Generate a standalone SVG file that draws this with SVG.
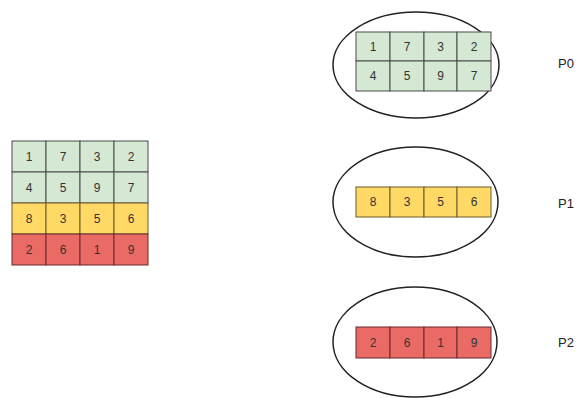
<svg xmlns="http://www.w3.org/2000/svg" width="582" height="398" viewBox="0 0 582 398">
<style>
.g{fill:#d5e8d4;stroke:#4a4a4a;stroke-width:1}
.y{fill:#ffd966;stroke:#6b5a2a;stroke-width:1}
.r{fill:#ea6b66;stroke:#6b2a2a;stroke-width:1}
.e{fill:#ffffff;stroke:#222;stroke-width:1.5}
text{font-family:"Liberation Sans",Arial,sans-serif;font-size:12px;fill:#333;text-anchor:middle;dominant-baseline:central}
.lbl{font-size:13px;text-anchor:start;fill:#222}
</style>
<rect width="582" height="398" fill="#fff"/>
<g id="matrix">
<rect class="g" x="12" y="141" width="34" height="31"/><rect class="g" x="46" y="141" width="34" height="31"/><rect class="g" x="80" y="141" width="34" height="31"/><rect class="g" x="114" y="141" width="34" height="31"/>
<rect class="g" x="12" y="172" width="34" height="31"/><rect class="g" x="46" y="172" width="34" height="31"/><rect class="g" x="80" y="172" width="34" height="31"/><rect class="g" x="114" y="172" width="34" height="31"/>
<rect class="y" x="12" y="203" width="34" height="31"/><rect class="y" x="46" y="203" width="34" height="31"/><rect class="y" x="80" y="203" width="34" height="31"/><rect class="y" x="114" y="203" width="34" height="31"/>
<rect class="r" x="12" y="234" width="34" height="31"/><rect class="r" x="46" y="234" width="34" height="31"/><rect class="r" x="80" y="234" width="34" height="31"/><rect class="r" x="114" y="234" width="34" height="31"/>
<text x="29" y="157">1</text><text x="63" y="157">7</text><text x="97" y="157">3</text><text x="131" y="157">2</text>
<text x="29" y="188">4</text><text x="63" y="188">5</text><text x="97" y="188">9</text><text x="131" y="188">7</text>
<text x="29" y="219">8</text><text x="63" y="219">3</text><text x="97" y="219">5</text><text x="131" y="219">6</text>
<text x="29" y="250">2</text><text x="63" y="250">6</text><text x="97" y="250">1</text><text x="131" y="250">9</text>
</g>
<g id="p0">
<ellipse class="e" cx="416" cy="65" rx="83" ry="53"/>
<rect class="g" x="356" y="32" width="34" height="29"/><rect class="g" x="390" y="32" width="34" height="29"/><rect class="g" x="424" y="32" width="33" height="29"/><rect class="g" x="457" y="32" width="34" height="29"/>
<rect class="g" x="356" y="61" width="34" height="30"/><rect class="g" x="390" y="61" width="34" height="30"/><rect class="g" x="424" y="61" width="33" height="30"/><rect class="g" x="457" y="61" width="34" height="30"/>
<text x="373" y="46.5">1</text><text x="407" y="46.5">7</text><text x="440.5" y="46.5">3</text><text x="474" y="46.5">2</text>
<text x="373" y="76">4</text><text x="407" y="76">5</text><text x="440.5" y="76">9</text><text x="474" y="76">7</text>
<text class="lbl" x="558" y="63">P0</text>
</g>
<g id="p1">
<ellipse class="e" cx="415.5" cy="202" rx="82.5" ry="55"/>
<rect class="y" x="356" y="187" width="34" height="30"/><rect class="y" x="390" y="187" width="34" height="30"/><rect class="y" x="424" y="187" width="33" height="30"/><rect class="y" x="457" y="187" width="34" height="30"/>
<text x="373" y="202">8</text><text x="407" y="202">3</text><text x="440.5" y="202">5</text><text x="474" y="202">6</text>
<text class="lbl" x="558" y="203">P1</text>
</g>
<g id="p2">
<ellipse class="e" cx="415" cy="342" rx="82" ry="55"/>
<rect class="r" x="356" y="327" width="34" height="31"/><rect class="r" x="390" y="327" width="34" height="31"/><rect class="r" x="424" y="327" width="33" height="31"/><rect class="r" x="457" y="327" width="34" height="31"/>
<text x="373" y="342.5">2</text><text x="407" y="342.5">6</text><text x="440.5" y="342.5">1</text><text x="474" y="342.5">9</text>
<text class="lbl" x="558" y="342">P2</text>
</g>
<g id="connectors"></g>
</svg>
